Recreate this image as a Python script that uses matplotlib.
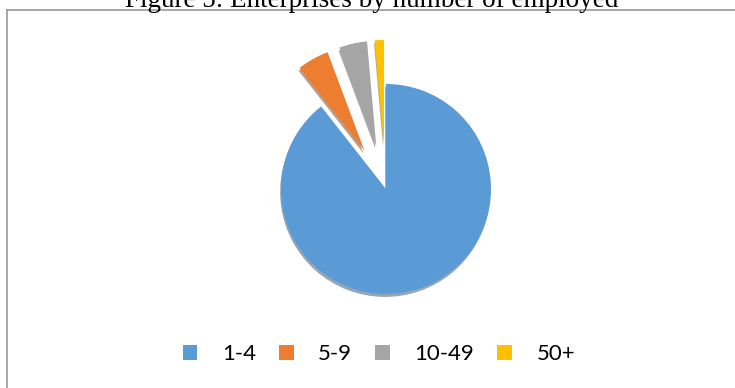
import matplotlib.pyplot as plt
from matplotlib.patches import Patch

# enterprises by number of employed (share in %)
labels = ['1-4', '5-9', '10-49', '50+']
shares = [89.4, 4.9, 4.3, 1.4]
colors = ['#5B9BD5', '#ED7D31', '#A5A5A5', '#FFC000']
explode = [0, 0.42, 0.42, 0.42]

W, H = 735, 388
fig = plt.figure(figsize=(W / 100, H / 100), dpi=100)

# pie axes: centre at (385, 188) px from top-left, radius ~105 px
r_px = 105
half = 160
cx, cy = 386, H - 189
ax = fig.add_axes([(cx - half) / W, (cy - half) / H, 2 * half / W, 2 * half / H])
ax.pie(shares, colors=colors, explode=explode, startangle=90, counterclock=False,
       radius=1.0, wedgeprops={'linewidth': 0},
       shadow={'ox': -0.006, 'oy': -0.02, 'shade': 0.5})
ax.set_xlim(-half / r_px, half / r_px)
ax.set_ylim(-half / r_px, half / r_px)
ax.set_aspect('equal')
ax.axis('off')

# chart frame (only top and left edge visible in the crop)
fig.add_artist(plt.Line2D([6.5 / W, 1], [1 - 9.5 / H, 1 - 9.5 / H], color='#a0a0a0', lw=1.3))
fig.add_artist(plt.Line2D([6.5 / W, 6.5 / W], [0, 1 - 9.5 / H], color='#a0a0a0', lw=1.3))

# caption, cut off at the top as in the source
fig.text(372 / W, 1 - 7.3 / H, 'Figure 5: Enterprises by number of employed',
         ha='center', va='baseline', family='Liberation Serif', fontsize=19.5)

handles = [Patch(facecolor=c, edgecolor='none') for c in colors]
fig.legend(handles, labels, loc='center', bbox_to_anchor=(379 / W, (H - 354) / H), ncol=4,
           frameon=False, prop={'family': 'Lato', 'size': 16},
           handlelength=0.65, handleheight=0.65, handletextpad=1.1, columnspacing=1.05)

fig.savefig('out.png', dpi=100)
